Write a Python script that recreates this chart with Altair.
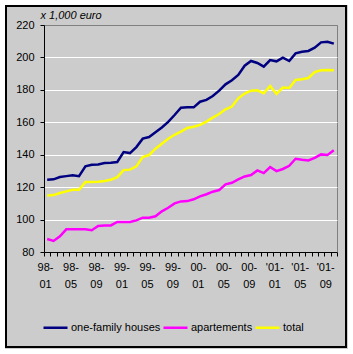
import json
import altair as alt
import pandas as pd

# ---------------- data ----------------
months = [
    "98-01", "98-02", "98-03", "98-04", "98-05", "98-06", "98-07", "98-08", "98-09", "98-10", "98-11", "98-12",
    "99-01", "99-02", "99-03", "99-04", "99-05", "99-06", "99-07", "99-08", "99-09", "99-10", "99-11", "99-12",
    "00-01", "00-02", "00-03", "00-04", "00-05", "00-06", "00-07", "00-08", "00-09", "00-10", "00-11", "00-12",
    "01-01", "01-02", "01-03", "01-04", "01-05", "01-06", "01-07", "01-08", "01-09", "01-10",
]
houses = [
    124.6, 124.8, 126.2, 126.8, 127.3, 126.8, 132.8, 133.8, 134.0, 134.9, 135.1, 135.5,
    141.6, 141.0, 144.7, 149.9, 150.9, 153.8, 156.8, 160.2, 164.5, 169.0, 169.2, 169.2,
    172.7, 173.8, 176.2, 179.5, 183.4, 185.9, 189.2, 194.9, 197.8, 196.6, 194.3, 198.4,
    197.6, 199.9, 197.8, 202.5, 203.5, 204.0, 206.0, 209.3, 209.7, 208.5,
]
apartments = [
    88.0, 86.8, 89.7, 94.0, 94.0, 94.0, 94.0, 93.4, 96.0, 96.4, 96.4, 98.5,
    98.5, 98.5, 99.5, 101.2, 101.2, 102.0, 105.1, 107.3, 110.0, 111.2, 111.4, 112.5,
    114.3, 115.6, 117.2, 118.2, 121.7, 122.7, 124.8, 126.6, 127.5, 130.3, 128.7, 132.4,
    129.9, 131.2, 133.2, 137.5, 136.9, 136.5, 138.0, 140.2, 139.8, 142.7,
]
total = [
    114.9, 115.1, 116.4, 117.4, 118.4, 118.4, 123.1, 123.1, 123.4, 123.8, 124.6, 126.2,
    130.5, 130.8, 132.8, 138.6, 139.8, 143.7, 146.8, 149.9, 152.3, 154.3, 156.5, 157.3,
    158.4, 160.4, 162.9, 165.1, 168.0, 169.7, 174.8, 177.7, 179.5, 179.7, 177.9, 182.4,
    177.5, 181.4, 181.2, 186.1, 186.5, 187.3, 191.0, 192.1, 192.3, 192.1,
]
series_names = ["one-family houses", "apartements", "total"]
series_colors = ["#000080", "#FF00FF", "#FFFF00"]
y_ticks = [80, 100, 120, 140, 160, 180, 200, 220]
x_label_top = ["98-", "98-", "98-", "99-", "99-", "99-", "00-", "00-", "00-", "'01-", "'01-", "'01-"]
x_label_bottom = ["01", "05", "09", "01", "05", "09", "01", "05", "09", "01", "05", "09"]
y_title = "x 1,000 euro"

FONT = "Liberation Sans"
BG = "#CCCCCC"

rows = []
for name, vals in zip(series_names, [houses, apartments, total]):
    for i, (m, v) in enumerate(zip(months, vals)):
        rows.append({"idx": i, "month": m, "series": name, "value": v})
df = pd.DataFrame(rows)

n = len(months)
boundaries = [i - 0.5 for i in range(n + 1)]
top_js = json.dumps(x_label_top)
bot_js = json.dumps(x_label_bottom)
k = "((datum.value + 0.5) / 4)"
label_expr = (
    f"((datum.value + 0.5) % 4 == 0 && {k} < {len(x_label_top)}) ? "
    f"[{top_js}[{k}], {bot_js}[{k}]] : ''"
)

lines = alt.Chart(df).mark_line(strokeWidth=2.5).encode(
    x=alt.X(
        "idx:Q",
        scale=alt.Scale(domain=[-0.5, n - 0.5], nice=False, zero=False),
        axis=alt.Axis(
            values=boundaries, labelExpr=label_expr, title=None, grid=False,
            tickSize=4, tickColor="black", domainColor="black",
            labelFont=FONT, labelFontSize=11, labelColor="black",
            labelPadding=5, labelLineHeight=17, labelOverlap=False,
            labelFlush=False, labelBound=False, labelAngle=0, labelOffset=1,
        ),
    ),
    y=alt.Y(
        "value:Q",
        scale=alt.Scale(domain=[80, 220], nice=False, zero=False),
        axis=alt.Axis(
            values=y_ticks, grid=True,
            gridColor={"condition": {"test": "datum.value == 220", "value": "#808080"}, "value": "white"},
            gridWidth=1,
            tickSize=4, tickColor="black", domainColor="black",
            labelFont=FONT, labelFontSize=11, labelColor="black", labelPadding=6,
            title=y_title, titleAngle=0, titleX=-4, titleY=-7, titleAlign="left",
            titleBaseline="alphabetic", titleFont=FONT, titleFontSize=11,
            titleFontStyle="italic", titleFontWeight="normal", titleColor="black",
        ),
    ),
    color=alt.Color(
        "series:N",
        scale=alt.Scale(domain=series_names, range=series_colors),
        legend=alt.Legend(
            orient="none", legendX=-2, legendY=289, direction="horizontal", title=None,
            symbolType="stroke", symbolSize=576, symbolStrokeWidth=2.5,
            labelFont=FONT, labelFontSize=11, labelColor="black", labelOffset=2,
            columnPadding=-3, padding=0,
        ),
    ),
)

one = pd.DataFrame({"k": [0]})
frame_white = alt.Chart(one).mark_rect(fill="transparent", stroke="white", strokeWidth=10).encode(
    x=alt.value(-44), x2=alt.value(309), y=alt.value(-25), y2=alt.value(329)
)
frame_black = alt.Chart(one).mark_rect(fill="transparent", stroke="black", strokeWidth=2).encode(
    x=alt.value(-38), x2=alt.value(302), y=alt.value(-19), y2=alt.value(322)
)

chart = alt.layer(lines, frame_white, frame_black).properties(
    width=293, height=227,
    autosize=alt.AutoSizeParams(type="none"),
    padding={"left": 44, "top": 25, "right": 16, "bottom": 102},
    background=BG,
).configure_view(stroke="#808080", strokeWidth=1)

chart.save("out.html", embed_options={"renderer": "svg", "actions": False})
